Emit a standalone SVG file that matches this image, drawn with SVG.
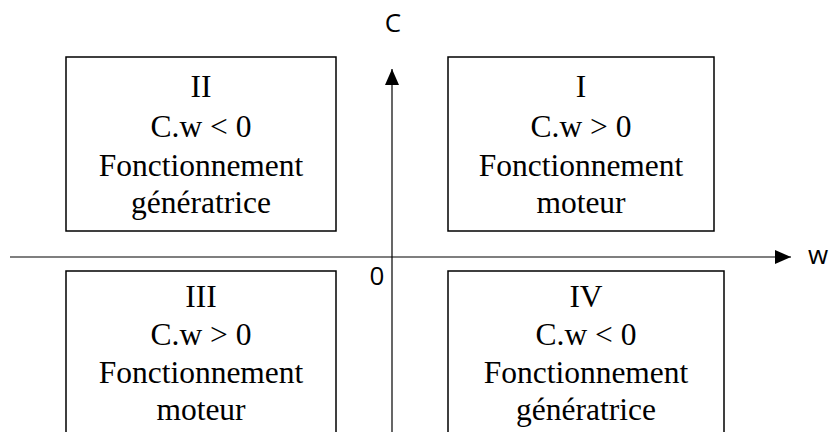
<svg xmlns="http://www.w3.org/2000/svg" width="831" height="432" viewBox="0 0 831 432">
<style>
.box{fill:#fff;stroke:#000;stroke-width:1.5}
.t{font-family:"Liberation Serif","Times New Roman",serif;font-size:31.5px;fill:#000;text-anchor:middle}
.ax{stroke:#000;stroke-width:1.2;fill:none}
.lb{font-family:"Open Sans","DejaVu Sans",sans-serif;font-size:26px;fill:#000;text-anchor:middle}
</style>
<defs>
<marker id="ah" viewBox="0 0 16 14" refX="16" refY="7" markerWidth="16" markerHeight="14" markerUnits="userSpaceOnUse" orient="auto">
<path d="M0,0 L16,7 L0,14 Z" fill="#000"/>
</marker>
</defs>
<g id="q2">
<rect class="box" x="66" y="57" width="270" height="174"/>
<text class="t" x="201" y="97">II</text>
<text class="t" x="201" y="137">C.w &lt; 0</text>
<text class="t" x="201" y="176">Fonctionnement</text>
<text class="t" x="201" y="213">génératrice</text>
</g>
<g id="q1">
<rect class="box" x="448" y="57" width="266" height="174"/>
<text class="t" x="581" y="97">I</text>
<text class="t" x="581" y="137">C.w &gt; 0</text>
<text class="t" x="581" y="176">Fonctionnement</text>
<text class="t" x="581" y="213">moteur</text>
</g>
<g id="q3">
<rect class="box" x="66" y="271" width="270" height="180"/>
<text class="t" x="201" y="307">III</text>
<text class="t" x="201" y="345">C.w &gt; 0</text>
<text class="t" x="201" y="383">Fonctionnement</text>
<text class="t" x="201" y="420">moteur</text>
</g>
<g id="q4">
<rect class="box" x="448" y="271" width="276" height="180"/>
<text class="t" x="586" y="307">IV</text>
<text class="t" x="586" y="345">C.w &lt; 0</text>
<text class="t" x="586" y="383">Fonctionnement</text>
<text class="t" x="586" y="420">génératrice</text>
</g>
<g id="axes">
<line class="ax" x1="10" y1="257" x2="791" y2="257" marker-end="url(#ah)"/>
<line class="ax" x1="392" y1="432" x2="392" y2="69" marker-end="url(#ah)"/>
</g>
<g id="labels">
<text class="lb" x="393" y="32">C</text>
<text class="lb" x="377" y="285">0</text>
<text class="lb" x="818" y="264">w</text>
</g>
</svg>
